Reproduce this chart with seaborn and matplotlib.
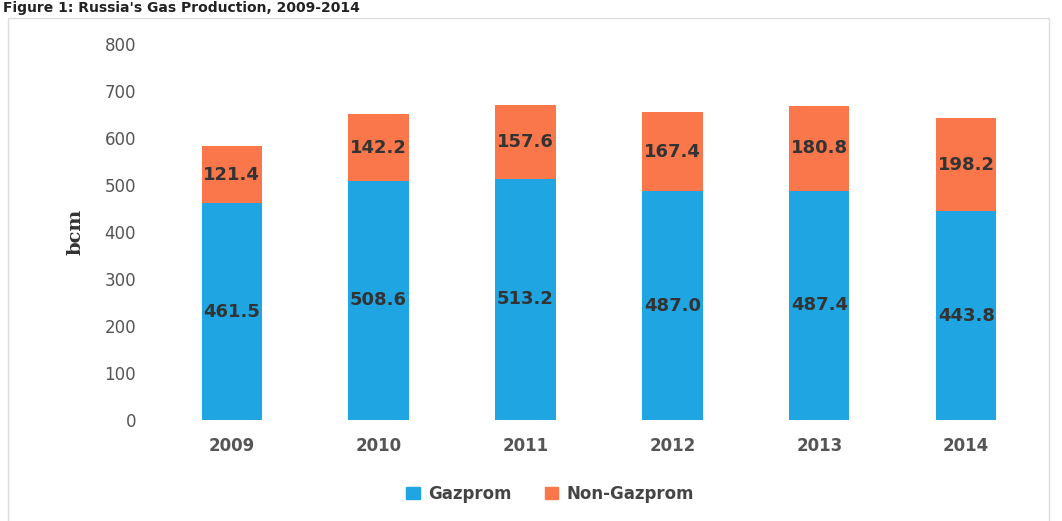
import matplotlib
matplotlib.use("Agg")
import numpy as np
import pandas as pd
import matplotlib.pyplot as plt
import seaborn as sns
from matplotlib.patches import Patch, Rectangle

years = ["2009", "2010", "2011", "2012", "2013", "2014"]
gazprom = [461.5, 508.6, 513.2, 487.0, 487.4, 443.8]
non_gazprom = [121.4, 142.2, 157.6, 167.4, 180.8, 198.2]

blue = "#1ea5e2"
orange = "#f9774b"

df = pd.DataFrame({"year": years, "gazprom": gazprom, "non_gazprom": non_gazprom})
df["total"] = df["gazprom"] + df["non_gazprom"]

sns.set_style("white")
plt.rcParams["font.family"] = ["DejaVu Sans"]

fig = plt.figure(figsize=(10.62, 5.21), dpi=100)
ax = fig.add_axes([0.149, 0.194, 0.830, 0.7215])

# stacked bars: total first (orange), gazprom drawn over it (blue)
sns.barplot(data=df, x="year", y="total", color=orange, width=0.41, ax=ax,
            saturation=1, linewidth=0, edgecolor="none")
sns.barplot(data=df, x="year", y="gazprom", color=blue, width=0.41, ax=ax,
            saturation=1, linewidth=0, edgecolor="none")

for i, (g, n) in enumerate(zip(gazprom, non_gazprom)):
    ax.text(i, g / 2, f"{g:.1f}", ha="center", va="center", fontsize=13,
            fontweight="bold", color="#333333")
    ax.text(i, g + n / 2, f"{n:.1f}", ha="center", va="center", fontsize=13,
            fontweight="bold", color="#333333")

ax.set_ylim(0, 800)
ax.set_yticks(range(0, 801, 100))
ax.set_xlim(-0.5, 5.5)
ax.tick_params(axis="both", length=0, labelsize=12, labelcolor="#555555")
ax.tick_params(axis="y", pad=16)
ax.tick_params(axis="x", pad=12)
for lbl in ax.get_xticklabels():
    lbl.set_fontweight("bold")
ax.set_xlabel("")
ax.set_ylabel("bcm", fontsize=14, family="DejaVu Serif", fontweight="bold",
              color="#333333", labelpad=14)
sns.despine(ax=ax, left=True, bottom=True)

handles = [Patch(color=blue, label="Gazprom"), Patch(color=orange, label="Non-Gazprom")]
leg = fig.legend(handles=handles, loc="center", bbox_to_anchor=(0.518, 0.052), ncol=2,
                 frameon=False, fontsize=12, handlelength=0.8, handleheight=0.8,
                 columnspacing=2.0, handletextpad=0.5)
for t in leg.get_texts():
    t.set_color("#444444")
    t.set_fontweight("bold")

# faint chart border
fig.patches.append(Rectangle((0.008, -0.01), 0.98, 0.975, transform=fig.transFigure,
                             fill=False, edgecolor="#dddddd", linewidth=1))

# caption at the very top
fig.text(0.003, 0.998, "Figure 1: Russia's Gas Production, 2009-2014", ha="left", va="top",
         fontsize=10, fontweight="bold", color="#222222")

fig.savefig("out.png", dpi=100)
